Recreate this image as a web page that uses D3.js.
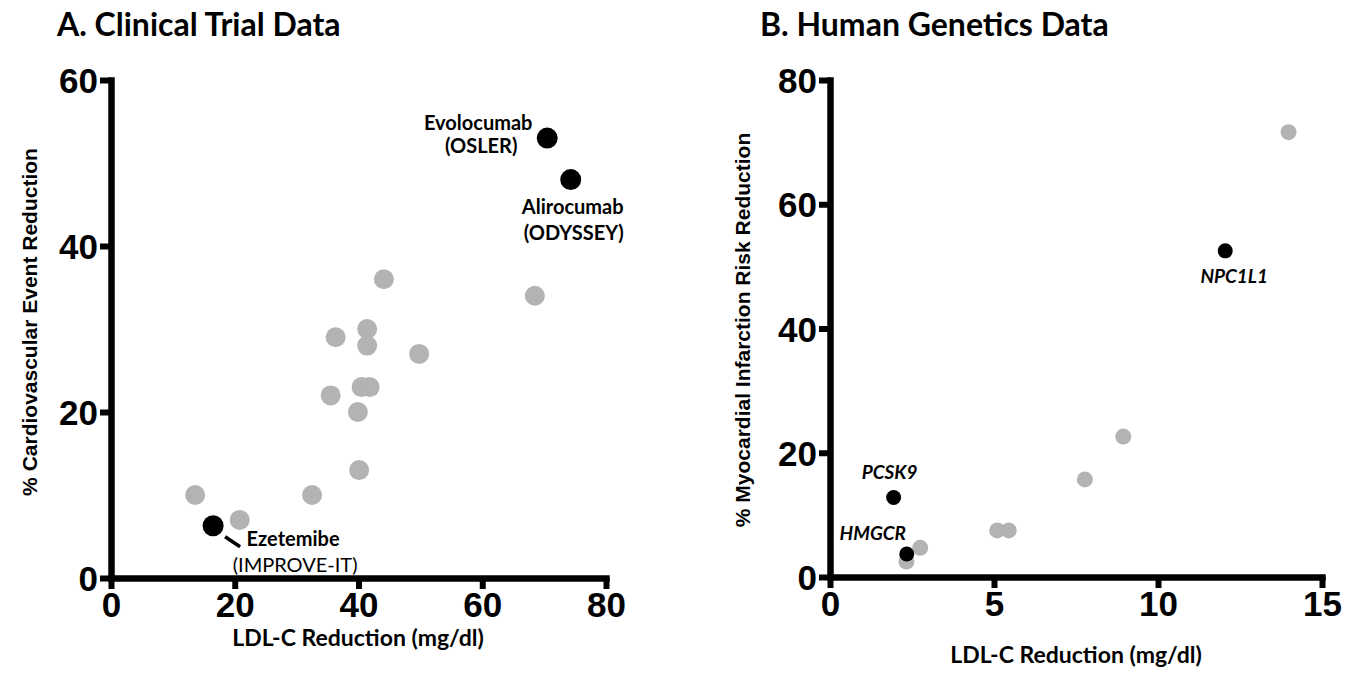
<!DOCTYPE html>
<html>
<head>
<meta charset="utf-8">
<script src="https://cdn.jsdelivr.net/npm/d3@7/dist/d3.min.js"></script>
<style>
  body { margin: 0; background: #fff; }
  svg { display: block; }
</style>
</head>
<body>
<svg></svg>
<script>
const width = 1361, height = 673;

// panel A - clinical trial data
const trialGray = [[13.6,10],[20.8,7],[32.5,10],[40.1,13],[35.5,22],[39.9,20],[40.5,23],[41.8,23],
                   [36.3,29],[41.4,30],[41.4,28],[49.8,27],[44.1,36],[68.5,34]];
const trialBlack = [[16.5,6.3],[70.5,53],[74.3,48]];
const trialDrugs = ["Ezetemibe", "Evolocumab", "Alirocumab"];
const trialStudies = ["(IMPROVE-IT)", "(OSLER)", "(ODYSSEY)"];
const ticksAx = [0, 20, 40, 60, 80];
const ticksAy = [0, 20, 40, 60];

// panel B - human genetics data
const geneGray = [[2.75,4.7],[2.33,2.5],[5.1,7.5],[5.45,7.5],[7.77,15.7],[8.94,22.6],[13.98,71.6]];
const geneBlack = [[1.94,12.8],[2.34,3.7],[12.05,52.5]];
const geneNames = ["PCSK9", "HMGCR", "NPC1L1"];
const ticksBx = [0, 5, 10, 15];
const ticksBy = [0, 20, 40, 60, 80];

const svg = d3.select('svg')
  .attr('width', width)
  .attr('height', height);

const xA = d3.scaleLinear().domain([0, 80]).range([111, 606]);
const yA = d3.scaleLinear().domain([0, 60]).range([578, 80]);
const xB = d3.scaleLinear().domain([0, 15]).range([830, 1322]);
const yB = d3.scaleLinear().domain([0, 80]).range([577, 80]);

const tickFont = '"Liberation Sans", Arial, sans-serif';
const labelFont = 'Lato, "Open Sans", sans-serif';

function drawAxes(x, y, xt, yt) {
  const gx = svg.append('g')
    .attr('transform', `translate(0,${y(0)})`)
    .call(d3.axisBottom(x).tickValues(xt).tickSize(11).tickSizeOuter(0).tickPadding(3));
  const gy = svg.append('g')
    .attr('transform', `translate(${x(0)},0)`)
    .call(d3.axisLeft(y).tickValues(yt).tickSize(11).tickSizeOuter(0).tickPadding(2));
  [gx, gy].forEach(g => {
    g.select('.domain').attr('stroke', '#000').attr('stroke-width', 6.5).attr('stroke-linecap', 'square');
    g.selectAll('.tick line').attr('stroke', '#000').attr('stroke-width', 6);
    g.selectAll('.tick text')
      .attr('fill', '#000')
      .style('font-family', tickFont)
      .style('font-weight', 'bold')
      .style('font-size', '35px');
  });
  gy.selectAll('.tick text').attr('dy', '0.36em');
}

function title(text, x, y) {
  svg.append('text')
    .attr('x', x).attr('y', y)
    .style('font-family', labelFont)
    .style('font-weight', 'bold')
    .style('font-size', '32px')
    .text(text);
}

function xTitle(text, x, y) {
  svg.append('text')
    .attr('x', x).attr('y', y)
    .attr('text-anchor', 'middle')
    .style('font-family', labelFont)
    .style('font-weight', 'bold')
    .style('font-size', '23px')
    .text(text);
}

function yTitle(text, x, y) {
  svg.append('text')
    .attr('transform', `translate(${x},${y}) rotate(-90)`)
    .attr('text-anchor', 'middle')
    .style('font-family', tickFont)
    .style('font-weight', 'bold')
    .style('font-size', '21px')
    .text(text);
}

// ---- panel A
title('A. Clinical Trial Data', 57, 36);
drawAxes(xA, yA, ticksAx, ticksAy);
xTitle('LDL-C Reduction (mg/dl)', 358, 646);
yTitle('% Cardiovascular Event Reduction', 37, 322);

svg.append('g').selectAll('circle')
  .data(trialGray)
  .join('circle')
  .attr('cx', d => xA(d[0]))
  .attr('cy', d => yA(d[1]))
  .attr('r', 10)
  .attr('fill', '#b3b3b3');

svg.append('g').selectAll('circle')
  .data(trialBlack)
  .join('circle')
  .attr('cx', d => xA(d[0]))
  .attr('cy', d => yA(d[1]))
  .attr('r', 10.5)
  .attr('fill', '#000');

// label offsets (px) from each black point: drug line x,y, study line x,y
const trialLabelPos = [[80, 20, 82, 46], [-69, -8, -66, 15], [2, 34, 3, 60]];
const studyWeight = ['normal', 'bold', 'bold'];

const trialLabels = svg.append('g')
  .style('font-family', labelFont)
  .style('font-weight', 'bold')
  .style('font-size', '20px')
  .attr('text-anchor', 'middle');

trialBlack.forEach((d, i) => {
  const px = xA(d[0]), py = yA(d[1]), o = trialLabelPos[i];
  trialLabels.append('text').attr('x', px + o[0]).attr('y', py + o[1]).text(trialDrugs[i]);
  trialLabels.append('text').attr('x', px + o[2]).attr('y', py + o[3])
    .style('font-weight', studyWeight[i]).text(trialStudies[i]);
});

// Ezetemibe pointer
svg.append('line')
  .attr('x1', xA(trialBlack[0][0]) + 12).attr('y1', yA(trialBlack[0][1]) + 11)
  .attr('x2', xA(trialBlack[0][0]) + 27).attr('y2', yA(trialBlack[0][1]) + 21)
  .attr('stroke', '#000').attr('stroke-width', 3.5);

// ---- panel B
title('B. Human Genetics Data', 760, 36);
drawAxes(xB, yB, ticksBx, ticksBy);
xTitle('LDL-C Reduction (mg/dl)', 1076, 663);
yTitle('% Myocardial Infarction Risk Reduction', 750, 330);

svg.append('g').selectAll('circle')
  .data(geneGray)
  .join('circle')
  .attr('cx', d => xB(d[0]))
  .attr('cy', d => yB(d[1]))
  .attr('r', 8)
  .attr('fill', '#b3b3b3');

svg.append('g').selectAll('circle')
  .data(geneBlack)
  .join('circle')
  .attr('cx', d => xB(d[0]))
  .attr('cy', d => yB(d[1]))
  .attr('r', 7.5)
  .attr('fill', '#000');

const geneLabelPos = [[-4, -18], [-34, -14], [9, 32]];

svg.append('g')
  .style('font-family', labelFont)
  .style('font-weight', 'bold')
  .style('font-style', 'italic')
  .style('font-size', '19px')
  .attr('text-anchor', 'middle')
  .selectAll('text')
  .data(geneBlack)
  .join('text')
  .attr('x', (d, i) => xB(d[0]) + geneLabelPos[i][0])
  .attr('y', (d, i) => yB(d[1]) + geneLabelPos[i][1])
  .text((d, i) => geneNames[i]);
</script>
</body>
</html>
